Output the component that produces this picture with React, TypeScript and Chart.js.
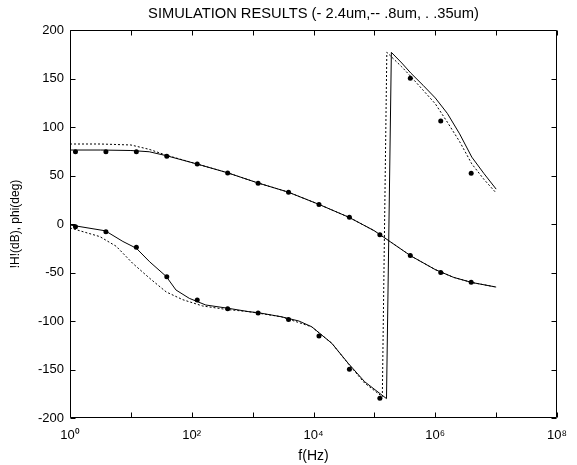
import React, { useEffect, useRef } from 'react';
import { Chart, registerables } from 'chart.js';

Chart.register(...registerables);

// ---- text ----
const TITLE = 'SIMULATION RESULTS (- 2.4um,-- .8um, . .35um)';
const X_LABEL = 'f(Hz)';
const Y_LABEL = '!H!(dB), phi(deg)';

// ---- ticks ----
const xTickValues = [1, 10, 100, 1e3, 1e4, 1e5, 1e6, 1e7, 1e8];
const xTickLabels = ['10\u2070', '', '10\u00B2', '', '10\u2074', '', '10\u2076', '', '10\u2078'];
const yTickValues = [-200, -150, -100, -50, 0, 50, 100, 150, 200];

// ---- 2.4um (solid) ----
const magFreq24 = [1, 3.16, 10, 20, 38, 120, 380, 1200, 3800, 12000, 38000, 1e5, 2e5, 4e5, 1e6, 2e6, 4e6, 1e7];
const mag24 = [76.3, 76.3, 75.8, 74.5, 70.5, 62, 53, 42.5, 33, 20.5, 7, -7, -20, -33, -47, -55, -60.3, -65];
const phaseFreq24 = [1, 3.8, 7.4, 12.3, 20.4, 38, 55, 91, 170, 407, 871, 1259, 2950, 5750, 9330, 20000, 37150, 69200, 158000, 190000, 282000, 398000, 631000, 1e6, 1.58e6, 2.51e6, 3.98e6, 6.31e6, 1e7];
const phase24 = [-1, -7, -18, -25, -39, -54, -68, -76.6, -83.5, -87, -90.4, -91.5, -95.6, -100, -105.9, -123, -143.6, -162.6, -180, 177, 166, 155.5, 143, 130, 114, 93, 69, 52, 36];

// ---- .8um (dashed) ----
const magFreq08 = [1, 3.16, 10, 20, 38, 120, 380, 1200, 3800, 12000, 38000, 1e5, 2e5, 4e5, 1e6, 2e6, 4e6, 1e7];
const mag08 = [82.5, 82.5, 81.5, 77, 71, 62, 53, 42.5, 33, 20.5, 7, -7, -20, -33, -47, -55, -60.3, -65];
const phaseFreq08 = [1, 3.1, 5.75, 10.7, 20.4, 38, 71, 151, 363, 871, 2950, 9330, 20000, 37150, 69200, 135000, 160000, 282000, 398000, 631000, 1e6, 1.58e6, 2.51e6, 3.98e6, 6.31e6, 1e7];
const phase08 = [-4, -13, -23, -40.5, -56, -70, -78, -84.5, -88, -90.4, -95.6, -106, -123, -144, -164, -178, 177, 162, 152, 138, 124, 105, 85, 62, 46, 32];

// ---- .35um (dots) ----
const dotFreq035 = [1.23, 3.89, 12.3, 38.9, 123, 389, 1230, 3890, 12300, 38900, 123000, 389000, 1230000, 3890000];
const mag035 = [74.5, 74.5, 74.5, 70, 62, 52.6, 42, 32.7, 20, 7, -11, -32.5, -50, -60];
const phase035 = [-2.8, -7.9, -24, -54.3, -78.4, -87.3, -91.8, -98.5, -115.5, -149.8, -179.7, 150.2, 106.2, 52.3];

const pts = (xs: number[], ys: number[]) => xs.map((x, i) => ({ x, y: ys[i] }));

const FONT = "'Liberation Sans', Arial, Helvetica, sans-serif";

const framePlugin = {
  id: 'matlabFrame',
  afterDraw(chart: any) {
    const { ctx, chartArea, scales } = chart;
    const l = Math.round(chartArea.left) + 0.5;
    const r = Math.round(chartArea.right) - 0.5;
    const t = Math.round(chartArea.top) + 0.5;
    const b = Math.round(chartArea.bottom) - 0.5;
    const len = 5;
    ctx.save();
    ctx.strokeStyle = '#000';
    ctx.lineWidth = 1;
    ctx.beginPath();
    ctx.rect(l, t, r - l, b - t);
    for (const v of xTickValues) {
      const px = Math.round(scales.x.getPixelForValue(v)) + 0.5;
      ctx.moveTo(px, b);
      ctx.lineTo(px, b - len);
      ctx.moveTo(px, t);
      ctx.lineTo(px, t + len);
    }
    for (const v of yTickValues) {
      const py = Math.round(scales.y.getPixelForValue(v)) + 0.5;
      ctx.moveTo(l, py);
      ctx.lineTo(l + len, py);
      ctx.moveTo(r, py);
      ctx.lineTo(r - len, py);
    }
    ctx.stroke();
    ctx.restore();
  },
};

export default function App() {
  const ref = useRef<HTMLCanvasElement>(null);

  useEffect(() => {
    if (!ref.current) return;
    const solid = { borderColor: '#000', borderWidth: 1, pointRadius: 0, fill: false };
    const dashed = { ...solid, borderDash: [2, 2] };
    const dots = {
      showLine: false,
      pointRadius: 2.5,
      pointBackgroundColor: '#000',
      pointBorderColor: '#000',
      pointBorderWidth: 0,
      borderColor: '#000',
    };
    const chart = new Chart(ref.current, {
      type: 'line',
      data: {
        datasets: [
          { ...solid, label: '2.4um |H|', data: pts(magFreq24, mag24) },
          { ...solid, label: '2.4um phi', data: pts(phaseFreq24, phase24) },
          { ...dashed, label: '.8um |H|', data: pts(magFreq08, mag08) },
          { ...dashed, label: '.8um phi', data: pts(phaseFreq08, phase08) },
          { ...dots, label: '.35um |H|', data: pts(dotFreq035, mag035) },
          { ...dots, label: '.35um phi', data: pts(dotFreq035, phase035) },
        ] as any,
      },
      options: {
        animation: false,
        responsive: false,
        devicePixelRatio: 1,
        layout: { padding: { left: 0, right: 17, top: 0, bottom: 0 } },
        plugins: {
          legend: { display: false },
          tooltip: { enabled: false },
          title: {
            display: true,
            fullSize: false,
            text: TITLE,
            color: '#000',
            font: { family: FONT, size: 14.7, weight: 'normal' },
            padding: { top: 5, bottom: 7.4 },
          },
        },
        scales: {
          x: {
            type: 'logarithmic',
            min: 1,
            max: 1e8,
            afterBuildTicks: (scale: any) => {
              scale.ticks = xTickValues.map((v) => ({ value: v }));
            },
            afterFit: (scale: any) => {
              scale.height = 47;
            },
            grid: { display: false, drawTicks: false },
            border: { display: false },
            ticks: {
              autoSkip: false,
              maxRotation: 0,
              minRotation: 0,
              padding: 10,
              color: '#000',
              font: { family: FONT, size: 13 },
              callback: (value: any) => {
                const i = xTickValues.indexOf(Number(value));
                return i >= 0 ? xTickLabels[i] : '';
              },
            },
            title: {
              display: true,
              text: X_LABEL,
              color: '#000',
              font: { family: FONT, size: 14 },
              padding: { top: 0, bottom: 0 },
            },
          },
          y: {
            type: 'linear',
            min: -200,
            max: 200,
            afterBuildTicks: (scale: any) => {
              scale.ticks = yTickValues.map((v) => ({ value: v }));
            },
            afterFit: (scale: any) => {
              scale.width = 70;
            },
            grid: { display: false, drawTicks: false },
            border: { display: false },
            ticks: {
              padding: 6,
              color: '#000',
              font: { family: FONT, size: 13 },
              callback: (value: any) => String(value),
            },
            title: {
              display: true,
              text: Y_LABEL,
              color: '#000',
              font: { family: FONT, size: 12 },
              padding: { top: 8, bottom: 0 },
            },
          },
        },
      } as any,
      plugins: [framePlugin],
    });
    return () => chart.destroy();
  }, []);

  return (
    <div style={{ position: 'fixed', left: 0, top: 0, width: 577, height: 465, background: '#fff' }}>
      <canvas ref={ref} width={577} height={465} style={{ display: 'block' }} />
    </div>
  );
}
